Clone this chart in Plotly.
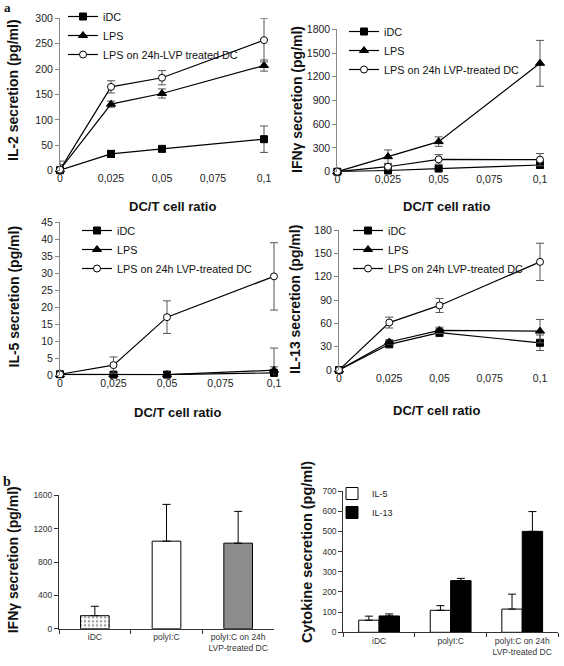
import plotly.graph_objects as go

# ---------------- data ----------------
x_ratio = [0, 0.025, 0.05, 0.1]
x_tickvals = [0, 0.025, 0.05, 0.075, 0.1]
x_ticktext = ["0", "0,025", "0,05", "0,075", "0,1"]

il2_idc = [1, 33, 43, 62]
il2_idc_err = [4, 7, 3, 26]
il2_lps = [2, 131, 152, 207]
il2_lps_err = [10, 6, 9, 11]
il2_lvp = [2, 165, 183, 257]
il2_lvp_err = [17, 12, 14, 43]

ifn_idc = [0, 15, 40, 85]
ifn_idc_err = [5, 15, 20, 40]
ifn_lps = [0, 190, 380, 1370]
ifn_lps_err = [10, 85, 60, 290]
ifn_lvp = [0, 63, 156, 152]
ifn_lvp_err = [5, 30, 60, 78]

il5_idc = [0.3, 0.2, 0.2, 0.7]
il5_idc_err = [0.3, 0.3, 0.3, 1.8]
il5_lps = [0.2, 0.2, 0.2, 1.5]
il5_lps_err = [0.3, 0.3, 0.3, 6.5]
il5_lvp = [0.3, 3.0, 17.1, 29.1]
il5_lvp_err = [0.3, 2.4, 4.8, 9.9]

il13_idc = [0, 33, 48, 35]
il13_idc_err = [1, 3, 5, 10]
il13_lps = [0, 36, 51, 50]
il13_lps_err = [1, 3, 4, 15]
il13_lvp = [0, 61, 83, 139]
il13_lvp_err = [1, 7, 9, 24]

b_categories = ["iDC", "polyI:C", "polyI:C on 24h<br>LVP-treated DC"]
ifn_b = [156, 1050, 1026]
ifn_b_err = [113, 441, 381]
il5_b = [60, 109, 115]
il5_b_err = [20, 23, 74]
il13_b = [81, 256, 500]
il13_b_err = [10, 11, 98]

# ---------------- helpers ----------------
W, H = 564, 666
FONT = "Liberation Sans"
X_MAX = 0.1
X_EXT = 0.104  # small extension so edge error bars are not clipped


def fx(p):
    return p / W


def fy(p):
    return 1 - p / H


fig = go.Figure()


def add_lines(xa, ya, leg, names, series):
    syms = [("square", "black", 7), ("triangle-up", "black", 8), ("circle", "white", 7)]
    for name, (vals, errs), (sym, fill, sz) in zip(names, series, syms):
        fig.add_trace(go.Scatter(
            x=x_ratio, y=vals, mode="lines+markers", name=name,
            xaxis=xa, yaxis=ya, legend=leg,
            line=dict(color="black", width=1.2),
            marker=dict(symbol=sym, size=sz, color=fill, line=dict(color="black", width=1)),
            error_y=dict(type="data", array=errs, visible=True, color="#555", thickness=1, width=4),
            cliponaxis=False,
        ))


names1 = ["iDC", "LPS", "LPS on 24h-LVP treated DC"]
names2 = ["iDC", "LPS", "LPS on 24h LVP-treated DC"]

add_lines("x", "y", "legend", names1,
          [(il2_idc, il2_idc_err), (il2_lps, il2_lps_err), (il2_lvp, il2_lvp_err)])
add_lines("x2", "y2", "legend2", names2,
          [(ifn_idc, ifn_idc_err), (ifn_lps, ifn_lps_err), (ifn_lvp, ifn_lvp_err)])
add_lines("x3", "y3", "legend3", names2,
          [(il5_idc, il5_idc_err), (il5_lps, il5_lps_err), (il5_lvp, il5_lvp_err)])
add_lines("x4", "y4", "legend4", names2,
          [(il13_idc, il13_idc_err), (il13_lps, il13_lps_err), (il13_lvp, il13_lvp_err)])

# panel b1
fig.add_trace(go.Bar(
    x=b_categories, y=ifn_b, xaxis="x5", yaxis="y5", showlegend=False, width=0.4,
    marker=dict(color=["white", "white", "#8c8c8c"], line=dict(color="black", width=1),
                pattern=dict(shape=[".", "", ""], fillmode="overlay", fgcolor="#777",
                             size=4, solidity=0.3)),
    error_y=dict(type="data", symmetric=False, array=ifn_b_err, arrayminus=[0, 0, 0],
                 color="black", thickness=1, width=4),
))
# panel b2
fig.add_trace(go.Bar(
    x=b_categories, y=il5_b, xaxis="x6", yaxis="y6", name="IL-5", legend="legend5",
    marker=dict(color="white", line=dict(color="black", width=1)),
    error_y=dict(type="data", symmetric=False, array=il5_b_err, arrayminus=[0, 0, 0],
                 color="black", thickness=1, width=4),
))
fig.add_trace(go.Bar(
    x=b_categories, y=il13_b, xaxis="x6", yaxis="y6", name="IL-13", legend="legend5",
    marker=dict(color="black", line=dict(color="black", width=1)),
    error_y=dict(type="data", symmetric=False, array=il13_b_err, arrayminus=[0, 0, 0],
                 color="black", thickness=1, width=4),
))

# ---------------- axes ----------------
# (suffix, [x px of 0, x px of 0.1], [y px top, y px bottom], y range, dtick)
line_panels = [
    ("", [60, 264], [18.3, 170.7], [0, 300], 50),
    ("2", [337.3, 540], [29.3, 171.7], [0, 1800], 300),
    ("3", [60, 274], [222.3, 375.3], [0, 45], 5),
    ("4", [339, 540], [230, 370], [0, 180], 30),
]
lay = {}
for k, xd, yd, yr, dt in line_panels:
    right = xd[0] + (xd[1] - xd[0]) * X_EXT / X_MAX
    lay["xaxis" + k] = dict(
        domain=[fx(xd[0]), fx(right)], range=[0, X_EXT], anchor="y" + k,
        tickvals=x_tickvals, ticktext=x_ticktext, showline=False, ticks="",
        showgrid=False, zeroline=False, automargin=False,
        tickfont=dict(size=10.5, color="#222"),
    )
    lay["yaxis" + k] = dict(
        domain=[fy(yd[1]), fy(yd[0])], range=yr, dtick=dt, anchor="x" + k,
        showline=True, linecolor="#888", linewidth=1, ticks="outside", ticklen=4,
        tickcolor="#888", showgrid=False, zeroline=False, automargin=False,
        tickfont=dict(size=10.5, color="#222"),
    )

bar_panels = [
    ("5", [59, 274], [495.3, 628.7], [0, 1600], 400),
    ("6", [343.3, 558], [491, 632.3], [0, 700], 100),
]
for k, xd, yd, yr, dt in bar_panels:
    lay["xaxis" + k] = dict(
        domain=[fx(xd[0]), fx(xd[1])], anchor="y" + k, type="category",
        showline=True, linecolor="#333", linewidth=1, ticks="outside", ticklen=4,
        tickson="boundaries", tickcolor="#333", showgrid=False, zeroline=False,
        automargin=False, tickfont=dict(size=8.5, color="#333"),
    )
    lay["yaxis" + k] = dict(
        domain=[fy(yd[1]), fy(yd[0])], range=yr, dtick=dt, anchor="x" + k,
        showline=True, linecolor="#333", linewidth=1, ticks="outside", ticklen=4,
        tickcolor="#333", showgrid=False, zeroline=False, automargin=False,
        tickfont=dict(size=8.5, color="#333"),
    )

leg_common = dict(xanchor="left", yanchor="top", bgcolor="rgba(0,0,0,0)",
                  font=dict(size=10.8, family=FONT, color="#111"), itemwidth=30)
lay["legend"] = dict(x=fx(63), y=fy(2), **leg_common)
lay["legend2"] = dict(x=fx(344), y=fy(17), **leg_common)
lay["legend3"] = dict(x=fx(77), y=fy(216), **leg_common)
lay["legend4"] = dict(x=fx(348), y=fy(216), **leg_common)
lay["legend5"] = dict(x=fx(332), y=fy(479), xanchor="left", yanchor="top",
                      bgcolor="rgba(0,0,0,0)", font=dict(size=9, family=FONT, color="#222"),
                      itemwidth=30)

# ---------------- annotations ----------------
ann = []


def text(x, y, s, size, angle=0, bold=True, family=FONT):
    ann.append(dict(x=fx(x), y=fy(y), xref="paper", yref="paper", text=("<b>%s</b>" % s) if bold else s,
                    showarrow=False, textangle=angle, xanchor="center", yanchor="middle",
                    font=dict(size=size, family=family, color="#111")))


text(13, 90, "IL-2 secretion (pg/ml)", 14, -90)
text(297, 100, "IFNγ secretion (pg/ml)", 14, -90)
text(13.5, 297, "IL-5 secretion (pg/ml)", 14, -90)
text(295, 300, "IL-13 secretion (pg/ml)", 14, -90)
text(13.3, 560, "IFNγ secretion (pg/ml)", 14, -90)
text(307, 552, "Cytokine secretion (pg/ml)", 14.5, -90)
text(172, 206, "DC/T cell ratio", 13)
text(446, 206, "DC/T cell ratio", 13)
text(177, 412, "DC/T cell ratio", 13)
text(436, 410, "DC/T cell ratio", 13)
text(7, 7, "a", 13, family="Liberation Serif")
text(7, 481, "b", 14, family="Liberation Serif")

fig.update_layout(
    width=W, height=H, margin=dict(l=0, r=0, t=0, b=0, autoexpand=False),
    paper_bgcolor="white", plot_bgcolor="white",
    font=dict(family=FONT, color="#111"),
    barmode="group", bargap=0.43, bargroupgap=0,
    annotations=ann, **lay,
)

fig.write_html("out.html", config={"displayModeBar": False},
               post_script="document.body.style.margin='0';")
